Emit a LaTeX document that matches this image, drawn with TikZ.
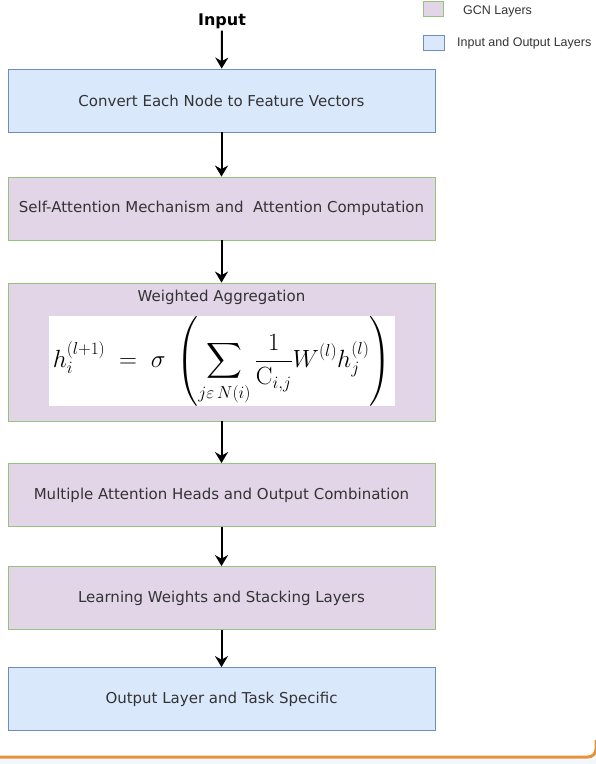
\documentclass[tikz,border=0pt]{standalone}
\usepackage[no-math]{fontspec}
\setmainfont{DejaVu Sans}
\newfontfamily\keyfont{Liberation Sans}
\usepackage{tikz}
\usetikzlibrary{arrows.meta, positioning, calc}
\usepackage{amsmath}
\usepackage{xcolor}
\definecolor{ioblue}{HTML}{DAE8FC}
\definecolor{ioedge}{HTML}{6C8EBF}
\definecolor{gcnpurple}{HTML}{E1D5E7}
\definecolor{gcnedge}{HTML}{97C27E}
\definecolor{textgray}{HTML}{333333}
\definecolor{lineorange}{HTML}{E6913C}
\definecolor{stripblue}{HTML}{F3F7FD}

\begin{document}
\begin{tikzpicture}[x=1pt, y=-1pt,
    iobox/.style={draw=ioedge, fill=ioblue, line width=0.8pt, rectangle, minimum width=427pt, minimum height=63pt, text=textgray, font=\fontsize{15}{18}\selectfont},
    gcnbox/.style={draw=gcnedge, fill=gcnpurple, line width=0.8pt, rectangle, minimum width=427pt, minimum height=63pt, text=textgray, font=\fontsize{15}{18}\selectfont},
    flow/.style={-{Stealth[length=11pt, width=13pt]}, line width=2pt}]
    \useasboundingbox (0,0) rectangle (596,764);
    % legend
    \node[draw=gcnedge, fill=gcnpurple, minimum width=20pt, minimum height=15pt, inner sep=0pt] (gcnkey) at (433,9) {};
    \node[draw=ioedge, fill=ioblue, minimum width=21pt, minimum height=15pt, inner sep=0pt] (iokey) at (434,43) {};
    \node[anchor=west, inner sep=0pt, font=\keyfont\fontsize{12.5}{14}\selectfont, text=textgray] (gcnlabel) at (463,11) {GCN Layers};
    \node[anchor=west, inner sep=0pt, font=\keyfont\fontsize{12.5}{14}\selectfont, text=textgray] (iolabel) at (457,43) {Input and Output Layers};
    % flow
    \node[font=\bfseries\fontsize{16}{19}\selectfont, inner sep=2pt] (input) at (222,21) {Input};
    \node[iobox] (convert) at (221.5,100.5) {Convert Each Node to Feature Vectors};
    \node[gcnbox] (attention) at (221.5,208.5) {Self-Attention Mechanism and\ \ Attention Computation};
    \node[gcnbox, minimum height=138pt] (aggregation) at (221.5,352) {};
    \node[text=textgray, inner sep=0pt, font=\fontsize{15}{18}\selectfont] (aggtitle) at (221.5,297) {Weighted Aggregation};
    \node[fill=white, minimum width=346pt, minimum height=90pt, inner sep=0pt, font=\fontsize{24}{29}\selectfont] (formula) at (222,361)
        {$\displaystyle h_i^{(l+1)} \;=\; \sigma\;\left(\sum_{j\varepsilon\,N(i)} \frac{1}{\mathrm{C}_{i,j}}W^{(l)}h_j^{(l)}\right)$};
    \node[gcnbox] (heads) at (221.5,495) {Multiple Attention Heads and Output Combination};
    \node[gcnbox] (learning) at (221.5,598) {Learning Weights and Stacking Layers};
    \node[iobox] (output) at (221.5,699) {Output Layer and Task Specific};
    \draw[flow] (input) -- (convert);
    \draw[flow] (convert) -- (attention);
    \draw[flow] (attention) -- (aggregation);
    \draw[flow] (aggregation) -- (heads);
    \draw[flow] (heads) -- (learning);
    \draw[flow] (learning) -- (output);
    % frame edge
    \fill[stripblue] (0,759) rectangle (596,764);
    \draw[lineorange, line width=3pt, rounded corners=8pt] (0,757) -- (596,757) -- (596,740);
\end{tikzpicture}
\end{document}
